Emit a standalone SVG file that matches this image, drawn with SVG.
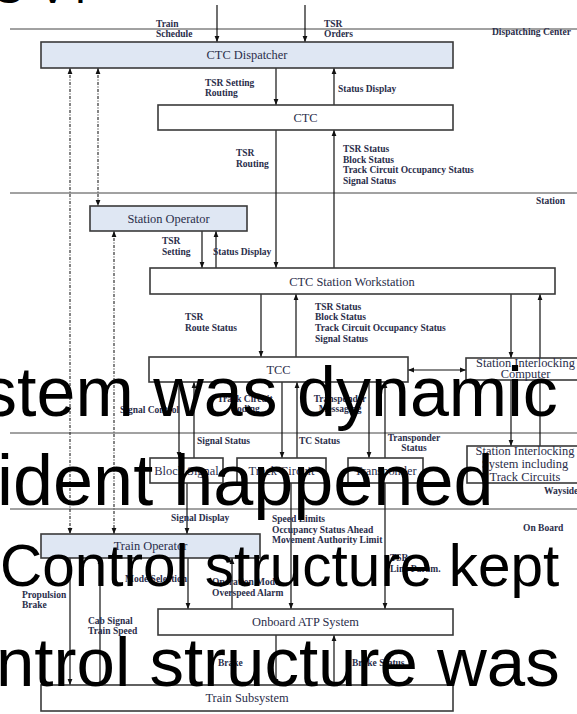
<svg xmlns="http://www.w3.org/2000/svg" width="577" height="714" viewBox="0 0 577 714">
<defs>
<marker id="ah" viewBox="0 0 10 10" refX="10" refY="5" markerWidth="6" markerHeight="6" markerUnits="userSpaceOnUse" orient="auto-start-reverse"><path d="M0,1 L10,5 L0,9 z" fill="#111"/></marker>
<style>
.c line{stroke:#111;stroke-width:1.2;fill:none}
.c .d{stroke:#333;stroke-dasharray:3 1.5 1 1.5}
.dv line{stroke:#444;stroke-width:1}
.b{fill:#fff;stroke:#3a3a3a;stroke-width:1.6}
.bb{fill:#dfe7f3;stroke:#3a3a3a;stroke-width:1.6}
.n{font-family:"Liberation Serif","Times New Roman",serif;font-size:12.4px;fill:#2a2d4a;text-anchor:middle}
.l{font-family:"Liberation Serif","Times New Roman",serif;font-size:9.5px;font-weight:bold;fill:#2a2d4a}
.m{text-anchor:middle}
.big{font-family:"Liberation Sans",Arial,sans-serif;fill:#000}
</style>
</defs>
<rect width="577" height="714" fill="#fff"/>
<g id="dividers" class="dv">
<line x1="10" y1="29" x2="577" y2="29"/>
<line x1="10" y1="193" x2="577" y2="193"/>
<line x1="10" y1="433" x2="577" y2="433"/>
<line x1="10" y1="509" x2="577" y2="509"/>
</g>
<g id="connectors" class="c">
<line x1="217" y1="5" x2="217" y2="42" marker-end="url(#ah)"/>
<line x1="305" y1="5" x2="305" y2="42" marker-end="url(#ah)"/>
<line x1="276" y1="68" x2="276" y2="105" marker-end="url(#ah)"/>
<line x1="334" y1="105" x2="334" y2="68" marker-end="url(#ah)"/>
<line x1="276" y1="130" x2="276" y2="268" marker-end="url(#ah)"/>
<line x1="334" y1="268" x2="334" y2="130" marker-end="url(#ah)"/>
<line x1="202" y1="231" x2="202" y2="268" marker-end="url(#ah)"/>
<line x1="216" y1="268" x2="216" y2="231" marker-end="url(#ah)"/>
<line x1="261" y1="294" x2="261" y2="357" marker-end="url(#ah)"/>
<line x1="296" y1="357" x2="296" y2="294" marker-end="url(#ah)"/>
<line x1="511" y1="294" x2="511" y2="358" marker-end="url(#ah)"/>
<line x1="540" y1="446" x2="540" y2="294" marker-end="url(#ah)"/>
<line x1="511" y1="380" x2="511" y2="446" marker-end="url(#ah)"/>
<line x1="408" y1="370" x2="466" y2="370" marker-start="url(#ah)" marker-end="url(#ah)"/>
<line x1="179" y1="382" x2="179" y2="458" marker-end="url(#ah)"/>
<line x1="194" y1="458" x2="194" y2="382" marker-end="url(#ah)"/>
<line x1="282" y1="382" x2="282" y2="458" marker-end="url(#ah)"/>
<line x1="297" y1="458" x2="297" y2="382" marker-end="url(#ah)"/>
<line x1="369" y1="382" x2="369" y2="458" marker-end="url(#ah)"/>
<line x1="385" y1="458" x2="385" y2="382" marker-end="url(#ah)"/>
<line x1="187" y1="483" x2="187" y2="534" marker-end="url(#ah)"/>
<line x1="291" y1="483" x2="291" y2="609" marker-end="url(#ah)"/>
<line x1="385" y1="483" x2="385" y2="609" marker-end="url(#ah)"/>
<line class="d" x1="70" y1="68" x2="70" y2="534" marker-start="url(#ah)" marker-end="url(#ah)"/>
<line class="d" x1="98" y1="68" x2="98" y2="206" marker-start="url(#ah)" marker-end="url(#ah)"/>
<line class="d" x1="114" y1="231" x2="114" y2="534" marker-start="url(#ah)" marker-end="url(#ah)"/>
<line x1="188" y1="558" x2="188" y2="609" marker-end="url(#ah)"/>
<line x1="232" y1="609" x2="232" y2="558" marker-end="url(#ah)"/>
<line x1="70" y1="558" x2="70" y2="685" marker-end="url(#ah)"/>
<line x1="100" y1="685" x2="100" y2="558" marker-end="url(#ah)"/>
<line x1="276" y1="635" x2="276" y2="685" marker-end="url(#ah)"/>
<line x1="334" y1="685" x2="334" y2="635" marker-end="url(#ah)"/>
</g>
<g id="ctc-dispatcher"><rect class="bb" x="41" y="42" width="412" height="26"/><text class="n" x="247" y="58.5">CTC Dispatcher</text></g>
<g id="ctc"><rect class="b" x="158" y="105" width="295" height="25"/><text class="n" x="305.5" y="121.5">CTC</text></g>
<g id="station-operator"><rect class="bb" x="90" y="206" width="157" height="25"/><text class="n" x="168.5" y="222.5">Station Operator</text></g>
<g id="ctc-station-workstation"><rect class="b" x="150" y="268" width="405" height="26"/><text class="n" x="352" y="285.5">CTC Station Workstation</text></g>
<g id="tcc"><rect class="b" x="149" y="357" width="259" height="25"/><text class="n" x="278.5" y="373.5">TCC</text></g>
<g id="station-interlocking-computer"><rect class="b" x="466" y="358" width="120" height="22"/><text class="n" x="525.5" y="367">Station Interlocking</text><text class="n" x="525.5" y="377.5">Computer</text></g>
<g id="block-signal"><rect class="b" x="150" y="458" width="73" height="25"/><text class="n" x="186.5" y="474.5">Block Signal</text></g>
<g id="track-circuit"><rect class="b" x="237" y="458" width="89" height="25"/><text class="n" x="281.5" y="474.5">Track Circuit</text></g>
<g id="transponder"><rect class="b" x="348" y="458" width="75" height="25"/><text class="n" x="385.5" y="474.5">Transponder</text></g>
<g id="station-interlocking-system"><rect class="b" x="467" y="446" width="120" height="37"/><text class="n" x="525" y="455">Station Interlocking</text><text class="n" x="525" y="468">System including</text><text class="n" x="525" y="481">Track Circuits</text></g>
<g id="train-operator"><rect class="bb" x="41" y="534" width="219" height="24"/><text class="n" x="150.5" y="550">Train Operator</text></g>
<g id="onboard-atp"><rect class="b" x="158" y="609" width="295" height="26"/><text class="n" x="305.5" y="626">Onboard ATP System</text></g>
<g id="train-subsystem"><rect class="b" x="41" y="685" width="412" height="26"/><text class="n" x="247" y="702">Train Subsystem</text></g>
<g id="labels" class="l">
<text x="156" y="27">Train</text><text x="156" y="37">Schedule</text>
<text x="324" y="27">TSR</text><text x="324" y="37">Orders</text>
<text x="492" y="35">Dispatching Center</text>
<text x="205" y="86">TSR Setting</text><text x="205" y="96">Routing</text>
<text x="338" y="92">Status Display</text>
<text x="236" y="156">TSR</text><text x="236" y="167">Routing</text>
<text x="343" y="152">TSR Status</text><text x="343" y="162.7">Block Status</text><text x="343" y="173.4">Track Circuit Occupancy Status</text><text x="343" y="184">Signal Status</text>
<text x="536" y="204">Station</text>
<text x="162" y="244">TSR</text><text x="162" y="255">Setting</text>
<text x="213" y="255">Status Display</text>
<text x="185" y="320">TSR</text><text x="185" y="331">Route Status</text>
<text x="315" y="309.5">TSR Status</text><text x="315" y="320.3">Block Status</text><text x="315" y="331">Track Circuit Occupancy Status</text><text x="315" y="341.7">Signal Status</text>
<text x="120" y="413">Signal Control</text>
<text class="m" x="245" y="402">Track Circuit</text><text class="m" x="245" y="411.5">Coding</text>
<text class="m" x="340" y="402">Transponder</text><text class="m" x="340" y="411.5">Messaging</text>
<text x="197" y="444">Signal Status</text>
<text x="299" y="444">TC Status</text>
<text class="m" x="414" y="441">Transponder</text><text class="m" x="414" y="451">Status</text>
<text x="544" y="494">Wayside</text>
<text x="171" y="521">Signal Display</text>
<text x="272" y="522">Speed Limits</text><text x="272" y="532.5">Occupancy Status Ahead</text><text x="272" y="543">Movement Authority Limit</text>
<text x="523" y="531">On Board</text>
<text x="390" y="561">TSR</text><text x="390" y="572">Line Param.</text>
<text x="125" y="582">Mode Selection</text>
<text x="212" y="585">Operation Mode</text><text x="212" y="596">Overspeed Alarm</text>
<text x="22" y="598">Propulsion</text><text x="22" y="608">Brake</text>
<text x="88" y="624">Cab Signal</text><text x="88" y="634">Train Speed</text>
<text x="218" y="666">Brake</text>
<text x="352" y="666">Brake Status</text>
</g>
<g id="overlay-text" class="big">
<text x="-6 38 67" y="3" font-size="44">SVT</text>
<text x="-18" y="416" font-size="70">stem was dynamic</text>
<text x="-3" y="505" font-size="72">ident happened</text>
<text x="0" y="586" font-size="58.5">Control structure kept</text>
<text x="-4" y="686" font-size="69">ntrol structure was</text>
</g>
</svg>
